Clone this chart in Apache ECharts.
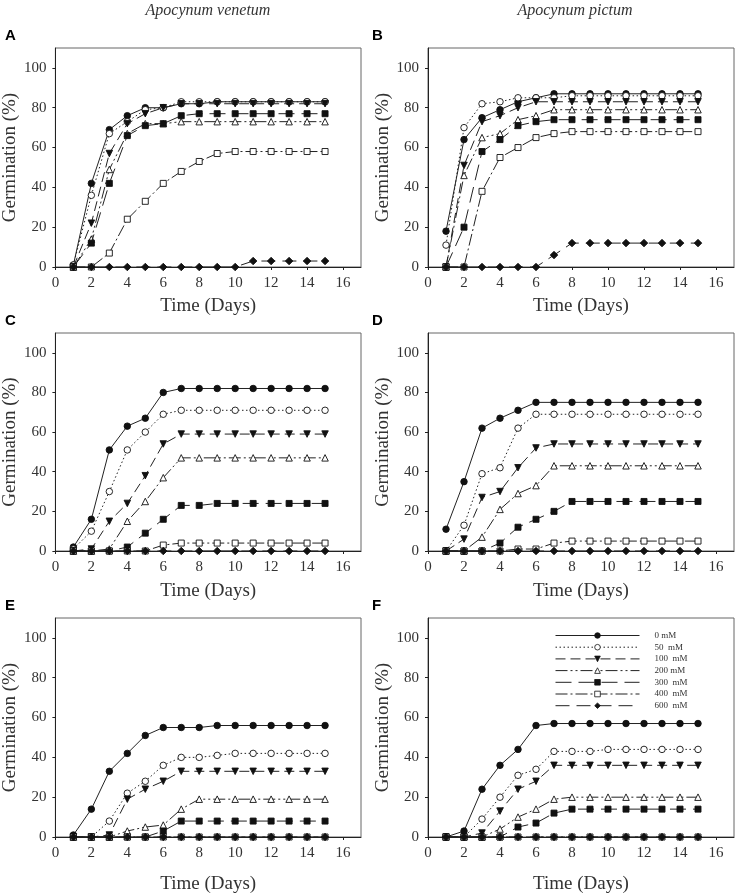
<!DOCTYPE html>
<html>
<head>
<meta charset="utf-8">
<script src="https://cdn.jsdelivr.net/npm/echarts@6/dist/echarts.min.js"></script>
<style>html,body{margin:0;padding:0;background:#fff;}#c{width:736px;height:895px;}</style>
</head>
<body>
<div id="c"></div>
<script>
const days = [1,2,3,4,5,6,7,8,9,10,11,12,13,14,15];
const concentrations = ['0 mM','50  mM','100  mM','200 mM','300  mM','400  mM','600  mM'];
const xTicks = [0,2,4,6,8,10,12,14,16];
const yTicks = [0,20,40,60,80,100];
const speciesTitles = ['Apocynum venetum','Apocynum pictum'];
const panelLetters = ['A','B','C','D','E','F'];

// Panel A
const A_0   = [1,42,69,76,80,80,82,82,83,83,83,83,83,83,83];
const A_50  = [1,36,67,73,79,80,83,83,83,83,83,83,83,83,83];
const A_100 = [0,22,57,72,77,80,82,82,82,82,82,82,82,82,82];
const A_200 = [0,14,49,67,72,72,73,73,73,73,73,73,73,73,73];
const A_300 = [0,12,42,66,71,72,76,77,77,77,77,77,77,77,77];
const A_400 = [0,0,7,24,33,42,48,53,57,58,58,58,58,58,58];
const A_600 = [0,0,0,0,0,0,0,0,0,0,3,3,3,3,3];
// Panel B
const B_0   = [18,64,75,79,83,85,87,87,87,87,87,87,87,87,87];
const B_50  = [11,70,82,83,85,85,85,86,86,86,86,86,86,86,86];
const B_100 = [0,51,73,76,80,83,83,83,83,83,83,83,83,83,83];
const B_200 = [0,46,65,67,74,76,79,79,79,79,79,79,79,79,79];
const B_300 = [0,20,58,64,71,73,74,74,74,74,74,74,74,74,74];
const B_400 = [0,0,38,55,60,65,67,68,68,68,68,68,68,68,68];
const B_600 = [0,0,0,0,0,0,6,12,12,12,12,12,12,12,12];
// Panel C
const C_0   = [2,16,51,63,67,80,82,82,82,82,82,82,82,82,82];
const C_50  = [1,10,30,51,60,69,71,71,71,71,71,71,71,71,71];
const C_100 = [0,1,15,24,38,54,59,59,59,59,59,59,59,59,59];
const C_200 = [0,0,1,15,25,37,47,47,47,47,47,47,47,47,47];
const C_300 = [0,0,0,2,9,16,23,23,24,24,24,24,24,24,24];
const C_400 = [0,0,0,0,0,3,4,4,4,4,4,4,4,4,4];
const C_600 = [0,0,0,0,0,0,0,0,0,0,0,0,0,0,0];
// Panel D
const D_0   = [11,35,62,67,71,75,75,75,75,75,75,75,75,75,75];
const D_50  = [0,13,39,42,62,69,69,69,69,69,69,69,69,69,69];
const D_100 = [0,6,27,30,42,52,54,54,54,54,54,54,54,54,54];
const D_200 = [0,0,7,21,29,33,43,43,43,43,43,43,43,43,43];
const D_300 = [0,0,0,4,12,16,20,25,25,25,25,25,25,25,25];
const D_400 = [0,0,0,0,1,1,4,5,5,5,5,5,5,5,5];
const D_600 = [0,0,0,0,0,0,0,0,0,0,0,0,0,0,0];
// Panel E
const E_0   = [1,14,33,42,51,55,55,55,56,56,56,56,56,56,56];
const E_50  = [0,0,8,22,28,36,40,40,41,42,42,42,42,42,42];
const E_100 = [0,0,1,19,24,28,33,33,33,33,33,33,33,33,33];
const E_200 = [0,0,0,3,5,6,14,19,19,19,19,19,19,19,19];
const E_300 = [0,0,0,0,0,3,8,8,8,8,8,8,8,8,8];
const E_400 = [0,0,0,0,0,0,0,0,0,0,0,0,0,0,0];
const E_600 = [0,0,0,0,0,0,0,0,0,0,0,0,0,0,0];
// Panel F
const F_0   = [0,3,24,36,44,56,57,57,57,57,57,57,57,57,57];
const F_50  = [0,0,9,20,31,34,43,43,43,44,44,44,44,44,44];
const F_100 = [0,0,2,13,24,28,36,36,36,36,36,36,36,36,36];
const F_200 = [0,0,0,4,10,14,19,20,20,20,20,20,20,20,20];
const F_300 = [0,0,0,0,5,7,12,14,14,14,14,14,14,14,14];
const F_400 = [0,0,0,0,0,0,0,0,0,0,0,0,0,0,0];
const F_600 = [0,0,0,0,0,0,0,0,0,0,0,0,0,0,0];

const panels = [
  [A_0,A_50,A_100,A_200,A_300,A_400,A_600],
  [B_0,B_50,B_100,B_200,B_300,B_400,B_600],
  [C_0,C_50,C_100,C_200,C_300,C_400,C_600],
  [D_0,D_50,D_100,D_200,D_300,D_400,D_600],
  [E_0,E_50,E_100,E_200,E_300,E_400,E_600],
  [F_0,F_50,F_100,F_200,F_300,F_400,F_600]
];

const styles = [
  {symbol:'circle', rotate:0, fill:'#111', size:6.5, dash:'solid'},
  {symbol:'circle', rotate:0, fill:'#fff', size:6.5, dash:[1.5,2.5]},
  {symbol:'triangle', rotate:180, fill:'#111', size:6.5, dash:[10,5]},
  {symbol:'triangle', rotate:0, fill:'#fff', size:6.5, dash:[12,3,2,3,2,3]},
  {symbol:'rect', rotate:0, fill:'#111', size:6, dash:[16,7]},
  {symbol:'rect', rotate:0, fill:'#fff', size:6, dash:[12,3,2,3]},
  {symbol:'diamond', rotate:0, fill:'#111', size:7.5, dash:[14,7]}
];

const serif = '"Liberation Serif","Times New Roman",serif';
const gridBoxes = [
  {left:54, top:48, width:307, height:219},
  {left:428, top:48, width:306, height:219},
  {left:54, top:333, width:307, height:218},
  {left:428, top:333, width:306, height:218},
  {left:54, top:618, width:307, height:219},
  {left:428, top:618, width:306, height:219}
];
const xNameGaps = [30,30,31,31,38,38];

const grid = [], xAxis = [], yAxis = [], series = [];
gridBoxes.forEach((g, i) => {
  grid.push(Object.assign({show:true, borderColor:'#666', borderWidth:1, containLabel:false, backgroundColor:'transparent'}, g));
  xAxis.push({
    type:'value', gridIndex:i, min:0, max:17,
    name:'Time (Days)', nameLocation:'middle', nameGap:xNameGaps[i],
    nameTextStyle:{fontFamily:serif, fontSize:19, color:'#333'},
    axisLine:{show:true, lineStyle:{color:'#222', width:1}},
    axisTick:{show:true, inside:false, length:3, customValues:xTicks, lineStyle:{color:'#222'}},
    axisLabel:{fontFamily:serif, fontSize:15, color:'#333', margin:9, customValues:xTicks},
    splitLine:{show:false}
  });
  yAxis.push({
    type:'value', gridIndex:i, min:0, max:110,
    name:'Germination (%)', nameLocation:'middle', nameGap:31,
    nameTextStyle:{fontFamily:serif, fontSize:19, color:'#333'},
    axisLine:{show:true, lineStyle:{color:'#222', width:1}},
    axisTick:{show:true, inside:false, length:3, customValues:yTicks, lineStyle:{color:'#222'}},
    axisLabel:{fontFamily:serif, fontSize:15, color:'#333', margin:9, customValues:yTicks},
    splitLine:{show:false}
  });
  panels[i].forEach((vals, k) => {
    const s = styles[k];
    series.push({
      type:'line', name:concentrations[k], xAxisIndex:i, yAxisIndex:i,
      data: days.map((d, j) => [d, vals[j]]),
      symbol:s.symbol, symbolRotate:s.rotate, symbolSize:s.size, showAllSymbol:true,
      lineStyle:{color:'#222', width:1, type:s.dash},
      itemStyle:{color:s.fill, borderColor:'#111', borderWidth:0.9},
      emphasis:{disabled:true}, animation:false, z:2+k
    });
  });
});

const graphic = [];
panelLetters.forEach((L, i) => {
  const g = gridBoxes[i];
  graphic.push({type:'text', left: i % 2 === 0 ? 5 : 372, top: g.top - 20,
    style:{text:L, font:'bold 15px "Liberation Sans",Arial,sans-serif', fill:'#000'}});
});
graphic.push({type:'text', x:208, y:11, style:{text:speciesTitles[0], font:'italic 16px "Liberation Serif",serif', fill:'#333', align:'center', verticalAlign:'middle'}});
graphic.push({type:'text', x:575, y:11, style:{text:speciesTitles[1], font:'italic 16px "Liberation Serif",serif', fill:'#333', align:'center', verticalAlign:'middle'}});

const chart = echarts.init(document.getElementById('c'), null, {renderer:'canvas'});
chart.setOption({
  backgroundColor:'#fff',
  animation:false,
  grid, xAxis, yAxis, series, graphic,
  legend:{
    data:concentrations, orient:'vertical', left:555, top:631,
    itemWidth:84, itemHeight:7, itemGap:2.7, padding:0,
    itemStyle:{borderWidth:0.8},
    lineStyle:{width:1},
    textStyle:{fontFamily:serif, fontSize:9, lineHeight:7, color:'#333', padding:[0,0,0,10]},
    selectedMode:false
  }
});
</script>
</body>
</html>
